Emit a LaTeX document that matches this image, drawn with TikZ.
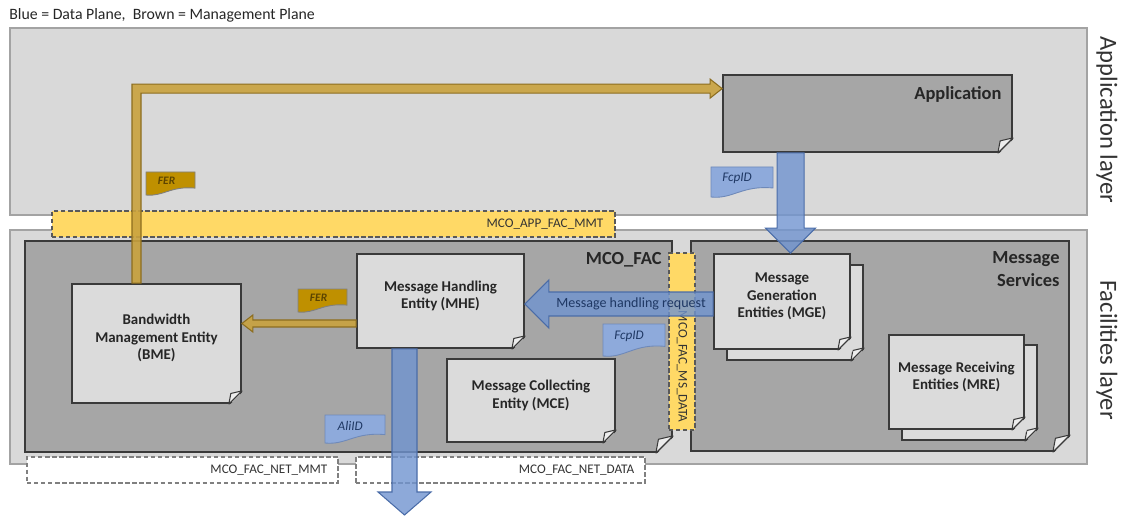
\documentclass[tikz,border=0pt]{standalone}
\usepackage{fontspec}
\setmainfont{Carlito}
\usetikzlibrary{positioning,fit,calc}

\definecolor{layergray}{HTML}{D9D9D9}
\definecolor{layeredge}{HTML}{A3A3A3}
\definecolor{boxgray}{HTML}{A6A6A6}
\definecolor{entgray}{HTML}{DBDBDB}
\definecolor{darkedge}{HTML}{3A3A3A}
\definecolor{flapgray}{HTML}{EDEDED}
\definecolor{bandyellow}{HTML}{FFD966}
\definecolor{bandedge}{HTML}{595959}
\definecolor{mmtfill}{HTML}{C9A23E}
\definecolor{mmtedge}{HTML}{8C6D1F}
\definecolor{ferbrown}{HTML}{BF9000}
\definecolor{fertext}{HTML}{5C4400}
\definecolor{datafill}{HTML}{7094D0}
\definecolor{dataedge}{HTML}{4A6CA8}
\definecolor{datatagfill}{HTML}{8EAADB}
\definecolor{navy}{HTML}{1F3864}

\tikzset{
  fold/.style={draw=darkedge, line width=0.6pt, line join=round},
}

% folded corner at the bottom right of a box
\newcommand{\dogear}[3]{%
  \fill[#3] ([shift={(-#2,-1pt)}]#1.south east) -- ([shift={(1pt,-1pt)}]#1.south east) -- ([shift={(1pt,#2)}]#1.south east) -- cycle;
  \draw[fold] ([xshift=-#2]#1.south east) -- ([yshift=#2]#1.south east);
  \draw[fold, fill=flapgray] ([xshift=-#2]#1.south east) -- ([shift={({-0.85*#2},{0.8*#2})}]#1.south east) -- ([yshift=#2]#1.south east) -- cycle;
}

% broad block arrow: style, from, to, half shaft, half head, head length
\newcommand{\fatarrow}[6]{%
  \coordinate (fa-base) at ($(#3)!#6!(#2)$);
  \draw[#1] ($(#2)!#4!90:(#3)$) -- ($(fa-base)!#4!90:(#3)$) -- ($(fa-base)!#5!90:(#3)$) -- (#3)
    -- ($(fa-base)!#5!-90:(#3)$) -- ($(fa-base)!#4!-90:(#3)$) -- ($(#2)!#4!-90:(#3)$) -- cycle;
}

% information element tag with a wavy bottom
\newcommand{\wavetag}[8]{%
  \draw[#2] (#4,#5) -- (#6,#5) -- (#6,{#7-0.3*(#7-#5)})
    .. controls ({#4+0.5*(#6-#4)},{#7-0.4*(#7-#5)}) and ({#4+0.35*(#6-#4)},{#7+0.08*(#7-#5)}) .. (#4,#7) -- cycle;
  \node[#3] (#1) at ({#4+0.42*(#6-#4)},{#5+0.38*(#7-#5)}) {#8};
}

\begin{document}
\begin{tikzpicture}[x=0.02cm, y=-0.02cm,
    layer/.style={draw=layeredge, fill=layergray, line width=0.8pt, inner sep=0pt},
    container/.style={draw=darkedge, fill=boxgray, line width=1pt, inner sep=0pt},
    entity/.style={draw=darkedge, fill=entgray, line width=1pt, inner sep=0pt, align=center,
      font=\fontsize{8.5}{10}\selectfont\bfseries, text=black!85},
    heading/.style={inner sep=0pt, align=right, font=\fontsize{10.5}{13}\selectfont\bfseries, text=black!85},
    layername/.style={rotate=-90, inner sep=0pt, font=\fontsize{14}{16}\selectfont, text=black!80},
    band/.style={draw=bandedge, fill=bandyellow, dash pattern=on 2.5pt off 1.5pt, line width=0.7pt, inner sep=0pt},
    netbox/.style={draw=gray, fill=white, dash pattern=on 2.5pt off 1.5pt, line width=0.7pt, inner sep=0pt},
    iflabel/.style={inner sep=0pt, font=\fontsize{7.5}{9}\selectfont, text=black!80},
    mmtflow/.style={draw=mmtedge, fill=mmtfill, fill opacity=0.9, line width=0.6pt},
    dataflow/.style={draw=dataedge, fill=datafill, fill opacity=0.8, line width=0.6pt},
    fershape/.style={draw=gray, fill=ferbrown, line width=0.5pt},
    fername/.style={inner sep=0pt, font=\fontsize{6.5}{8}\selectfont\itshape\bfseries, text=fertext},
    datashape/.style={draw=dataedge!80, fill=datatagfill, line width=0.5pt},
    dataname/.style={inner sep=0pt, font=\fontsize{7.5}{9}\selectfont\itshape, text=navy},
  ]
  \useasboundingbox (0,0) rectangle (1123,517);

  \node[anchor=west, inner sep=0pt, font=\fontsize{9}{11}\selectfont, text=black!85] (legend) at (9,15)
    {Blue = Data Plane,\ \ Brown = Management Plane};

  % layers
  \node[layer, fit={(10,28) (1087,215)}] (applayer) {};
  \node[layer, fit={(10,230) (1087,464)}] (faclayer) {};
  \node[layername] (applayer-name) at (1107,120) {Application layer};
  \node[layername] (faclayer-name) at (1107,350) {Facilities layer};

  \node[container, fit={(723,75) (1012,152)}] (app) {};
  \dogear{app}{0.3cm}{layergray}
  \node[heading, anchor=north east] (app-title) at ([shift={(-0.22cm,-0.24cm)}]app.north east) {Application};

  \node[band, fit={(52,211) (615,237)}] (appfac) {};
  \node[iflabel, anchor=east] (appfac-name) at ([xshift=-0.24cm]appfac.east) {MCO\_APP\_FAC\_MMT};

  \node[container, fit={(25,241) (672,452)}] (mcofac) {};
  \dogear{mcofac}{0.34cm}{layergray}
  \node[heading, anchor=north east] (mcofac-title) at ([shift={(-0.22cm,-0.24cm)}]mcofac.north east) {MCO\_FAC};

  \node[container, fit={(691,241) (1069,451)}] (msvc) {};
  \dogear{msvc}{0.34cm}{layergray}
  \node[heading, anchor=north east] (msvc-title) at ([shift={(-0.2cm,-0.22cm)}]msvc.north east) {Message\\Services};

  % entities
  \node[entity, fit={(72,284) (241,403)}] (bme) {Bandwidth\\Management Entity\\(BME)};
  \dogear{bme}{0.26cm}{boxgray}
  \node[entity, fit={(357,254) (524,348)}] (mhe) {Message Handling\\Entity (MHE)};
  \dogear{mhe}{0.26cm}{boxgray}
  \node[entity, fit={(447,359) (615,442)}] (mce) {Message Collecting\\Entity (MCE)};
  \dogear{mce}{0.26cm}{boxgray}

  \node[entity, fit={(727,265) (863,360)}] (mge-back) {};
  \dogear{mge-back}{0.26cm}{boxgray}
  \node[entity, fit={(714,254) (850,349)}] (mge) {Message\\Generation\\Entities (MGE)};
  \dogear{mge}{0.26cm}{entgray}
  \node[entity, fit={(902,345) (1037,440)}] (mre-back) {};
  \dogear{mre-back}{0.26cm}{boxgray}
  \node[entity, fit={(889,335) (1024,429)}] (mre) {Message Receiving\\Entities (MRE)};
  \dogear{mre}{0.26cm}{entgray}

  \node[band, fit={(669,253) (695,430)}] (msdata) {};
  \node[iflabel, rotate=-90, anchor=east] (msdata-name) at ([yshift=0.16cm]msdata.south) {MCO\_FAC\_MS\_DATA};

  \node[netbox, fit={(27,457) (338,483)}] (netmmt) {};
  \node[iflabel, anchor=east] (netmmt-name) at ([xshift=-0.22cm]netmmt.east) {MCO\_FAC\_NET\_MMT};
  \node[netbox, fit={(356,457) (645,483)}] (netdata) {};
  \node[iflabel, anchor=east] (netdata-name) at ([xshift=-0.22cm]netdata.east) {MCO\_FAC\_NET\_DATA};

  % tags
  \wavetag{fer-app}{fershape}{fername}{146}{172}{195}{195}{FER}
  \wavetag{fer-fac}{fershape}{fername}{298}{289}{347}{312}{FER}
  \wavetag{fcp-app}{datashape}{dataname}{711}{167}{773}{197}{FcpID}
  \wavetag{fcp-fac}{datashape}{dataname}{603}{324}{665}{356}{FcpID}
  \wavetag{ali}{datashape}{dataname}{325}{415}{385}{443}{AliID}

  % management plane
  \coordinate (bme-up) at ([xshift=-0.4cm]bme.north);
  \coordinate (app-in) at ([yshift=-0.29cm]app.north west);
  \draw[mmtflow] let \p1=(bme-up), \p2=(app-in) in
    (\x1-0.09cm,\y1) -- (\x1-0.09cm,\y2+0.09cm) -- (\x2-0.24cm,\y2+0.09cm) -- (\x2-0.24cm,\y2+0.19cm)
    -- (\p2) -- (\x2-0.24cm,\y2-0.19cm) -- (\x2-0.24cm,\y2-0.09cm) -- (\x1+0.09cm,\y2-0.09cm)
    -- (\x1+0.09cm,\y1) -- cycle;
  \coordinate (mhe-mmt) at ([yshift=-0.45cm]mhe.west);
  \coordinate (bme-in) at (mhe-mmt -| bme.east);
  \fatarrow{mmtflow}{mhe-mmt}{bme-in}{0.07cm}{0.17cm}{0.22cm}

  % data plane
  \coordinate (app-out) at ([xshift=1.37cm]app.south west);
  \coordinate (mge-in) at (app-out |- mge.north);
  \fatarrow{dataflow}{app-out}{mge-in}{0.27cm}{0.5cm}{0.5cm}
  \coordinate (mge-out) at ([yshift=-0.05cm]mge.west);
  \coordinate (mhe-in) at (mge-out -| mhe.east);
  \fatarrow{dataflow}{mge-out}{mhe-in}{0.24cm}{0.48cm}{0.48cm}
  \node[inner sep=0pt, font=\fontsize{8}{10}\selectfont, text=navy] (req-name)
    at ($(mhe-in)!0.5!(mge-out)+(0.24cm,0)$) {Message handling request};
  \coordinate (mhe-out) at ([xshift=-0.72cm]mhe.south);
  \coordinate (net-out) at (mhe-out |- 0,515);
  \fatarrow{dataflow}{mhe-out}{net-out}{0.25cm}{0.53cm}{0.46cm}
\end{tikzpicture}
\end{document}
